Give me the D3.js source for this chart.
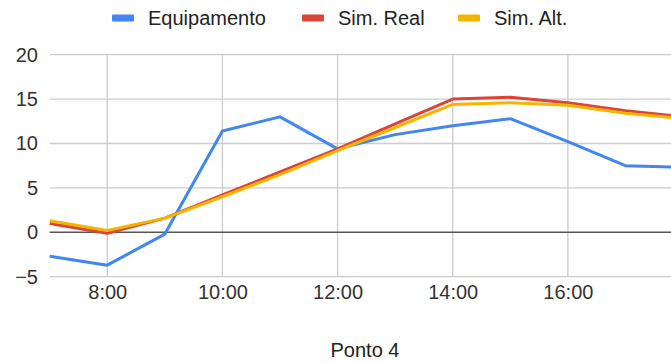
<!DOCTYPE html>
<html>
<head>
<meta charset="utf-8">
<script src="https://cdn.jsdelivr.net/npm/d3@7/dist/d3.min.js"></script>
<style>
  html, body { margin: 0; padding: 0; background: #fff; }
  svg { display: block; font-family: Arial, "Liberation Sans", sans-serif; }
</style>
</head>
<body>
<svg id="chart" width="671" height="363"></svg>
<script>
// Hourly readings, 7:00 to 18:00
const hours = [7, 8, 9, 10, 11, 12, 13, 14, 15, 16, 17, 18];
const equipamento = [-2.7, -3.7, -0.2, 11.4, 13.0, 9.4, 11.0, 12.0, 12.8, 10.2, 7.5, 7.3];
const simReal     = [1.0, -0.1, 1.6, 4.2, 6.8, 9.4, 12.2, 15.0, 15.2, 14.6, 13.7, 13.0];
const simAlt      = [1.3, 0.2, 1.6, 4.0, 6.5, 9.2, 11.8, 14.4, 14.6, 14.3, 13.4, 12.8];

const seriesNames  = ["Equipamento", "Sim. Real", "Sim. Alt."];
const seriesColors = ["#4285f4", "#db4437", "#f4b400"];
const xTicks = [8, 10, 12, 14, 16];
const yTicks = [-5, 0, 5, 10, 15, 20];
const xTitle = "Ponto 4";

const svg = d3.select("#chart");
const x = d3.scaleLinear().domain([7, 18]).range([49.7, 683]);
const y = d3.scaleLinear().domain([-5, 20]).range([276.7, 54.7]);

// Horizontal gridlines
svg.append("g")
  .selectAll("line").data(yTicks.filter(v => v !== 0)).join("line")
  .attr("x1", x(7)).attr("x2", 671)
  .attr("y1", d => y(d)).attr("y2", d => y(d))
  .attr("stroke", "#cccccc").attr("stroke-width", 1.3);

// Vertical gridlines
svg.append("g")
  .selectAll("line").data(xTicks).join("line")
  .attr("x1", d => x(d)).attr("x2", d => x(d))
  .attr("y1", y(20)).attr("y2", y(-5))
  .attr("stroke", "#cccccc").attr("stroke-width", 1.3);

// Baseline at zero
svg.append("line")
  .attr("x1", x(7)).attr("x2", 671)
  .attr("y1", y(0)).attr("y2", y(0))
  .attr("stroke", "#555555").attr("stroke-width", 1.5);

// Y axis labels
const yAxis = d3.axisLeft(y).tickValues(yTicks).tickSize(0).tickPadding(0);
svg.append("g")
  .attr("transform", "translate(38,0)")
  .call(yAxis)
  .call(g => g.select(".domain").remove())
  .selectAll("text")
  .attr("font-size", 20).attr("fill", "#333").attr("font-family", "Arial, 'Liberation Sans', sans-serif");

// X axis labels
const xAxis = d3.axisBottom(x).tickValues(xTicks).tickFormat(d => d + ":00").tickSize(0).tickPadding(0);
svg.append("g")
  .attr("transform", "translate(0,285)")
  .call(xAxis)
  .call(g => g.select(".domain").remove())
  .selectAll("text")
  .attr("font-size", 20).attr("fill", "#333").attr("font-family", "Arial, 'Liberation Sans', sans-serif");

// X axis title
svg.append("text")
  .attr("x", 365).attr("y", 356.5)
  .attr("text-anchor", "middle")
  .attr("font-size", 20).attr("fill", "#222")
  .text(xTitle);

// Series lines
const line = d3.line().x((d, i) => x(hours[i])).y(d => y(d));
[equipamento, simReal, simAlt].forEach((vals, i) => {
  svg.append("path")
    .datum(vals)
    .attr("d", line)
    .attr("fill", "none")
    .attr("stroke", seriesColors[i])
    .attr("stroke-width", 3)
    .attr("stroke-linejoin", "round");
});

// Legend
const legendX = [112, 302, 458];
const legend = svg.append("g");
seriesNames.forEach((name, i) => {
  legend.append("rect")
    .attr("x", legendX[i]).attr("y", 14.5)
    .attr("width", 22).attr("height", 7).attr("rx", 1)
    .attr("fill", seriesColors[i]);
  legend.append("text")
    .attr("x", legendX[i] + 36).attr("y", 24.5)
    .attr("font-size", 20).attr("fill", "#222")
    .text(name);
});
</script>
</body>
</html>
